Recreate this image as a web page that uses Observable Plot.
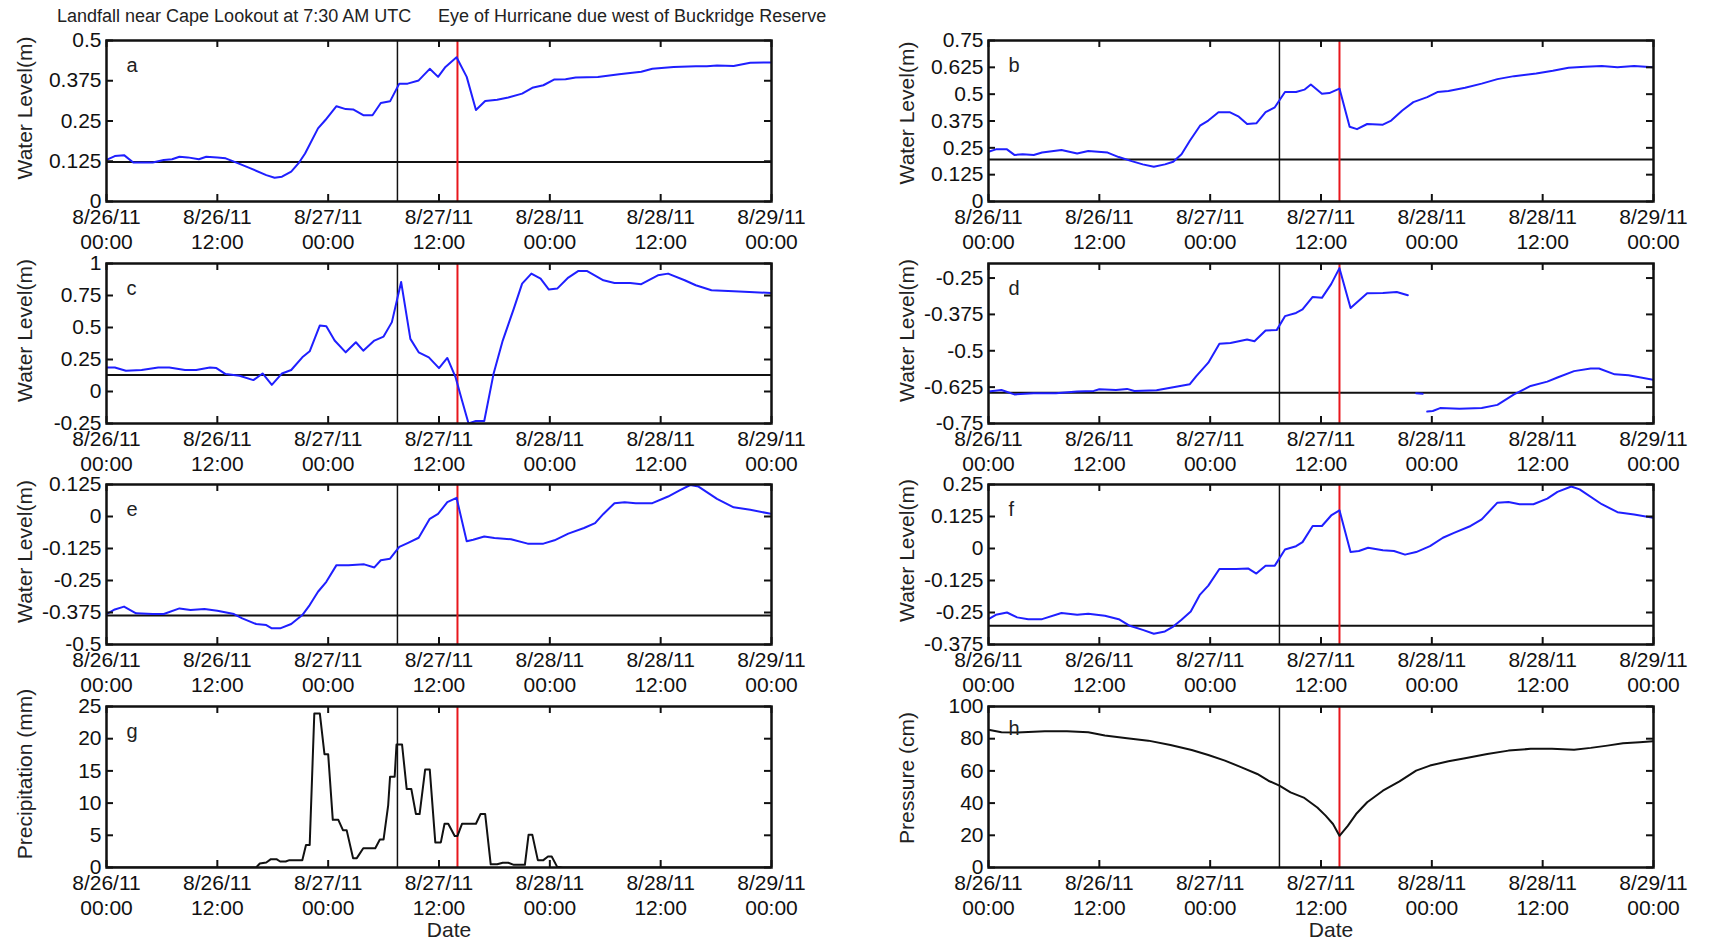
<!DOCTYPE html>
<html><head><meta charset="utf-8">
<script src="https://cdn.jsdelivr.net/npm/d3@7"></script>
<script src="https://cdn.jsdelivr.net/npm/@observablehq/plot@0.6"></script>
<style>
body{margin:0;background:#fff;}
#root{position:relative;width:1713px;height:943px;overflow:hidden;font-family:"Liberation Sans",Arial,sans-serif;background:#fff;}
.title{position:absolute;top:6px;font-size:18px;white-space:nowrap;color:#222;}
#root svg{position:absolute;}
</style></head><body><div id="root">
<div class="title" style="left:57px">Landfall near Cape Lookout at 7:30 AM UTC</div>
<div class="title" style="left:438px">Eye of Hurricane due west of Buckridge Reserve</div>
</div>
<script>
// ---------- DATA (hours after 8/26/11 00:00 UTC, value) ----------
const landfallHour = 31.5;   // 7:30 AM UTC on 8/27
const eyeHour = 38;
const xTickHours = [0, 12, 24, 36, 48, 60, 72];

const seriesA = [[0,0.129],[0.9,0.141],[1.9,0.144],[2.9,0.121],[5,0.121],[6.2,0.129],[7.1,0.131],[7.9,0.139],[8.8,0.137],[10,0.131],[10.8,0.139],[12,0.137],[12.9,0.134],[13.8,0.124],[15.6,0.103],[17.3,0.082],[18.2,0.074],[19,0.077],[20,0.093],[20.8,0.119],[21.5,0.149],[22.9,0.227],[23.7,0.253],[24.9,0.296],[25.9,0.287],[26.7,0.286],[27.8,0.268],[28.8,0.268],[29.7,0.306],[30.7,0.311],[31.7,0.366],[32.6,0.366],[33.8,0.376],[35,0.412],[35.9,0.387],[36.7,0.418],[37.9,0.448],[39,0.387],[40,0.284],[41,0.312],[42.3,0.316],[43.5,0.323],[45,0.335],[46.1,0.353],[47.3,0.361],[48.5,0.379],[49.7,0.380],[50.8,0.385],[53.2,0.387],[55.5,0.395],[57.9,0.403],[59.1,0.412],[61.4,0.418],[63.8,0.420],[65,0.420],[66.1,0.422],[67.9,0.421],[69.7,0.431],[72,0.432]];
const seriesB = [[0,0.232],[0.8,0.243],[2,0.243],[2.8,0.217],[3.7,0.220],[4.9,0.217],[5.8,0.228],[7.9,0.240],[9.6,0.224],[10.8,0.235],[12.9,0.228],[14.1,0.207],[15.5,0.188],[16.7,0.173],[17.9,0.162],[19.1,0.173],[20,0.185],[20.9,0.220],[21.8,0.283],[22.9,0.353],[23.8,0.377],[24.9,0.416],[26.1,0.416],[27.1,0.395],[28,0.361],[29,0.364],[30,0.416],[31,0.439],[32.1,0.510],[33.3,0.510],[34.2,0.521],[34.9,0.545],[36.1,0.502],[36.9,0.505],[38,0.526],[39.1,0.348],[39.9,0.337],[41,0.361],[42.7,0.358],[43.6,0.377],[44.8,0.424],[46,0.463],[47.5,0.486],[48.6,0.510],[49.8,0.515],[51.6,0.530],[53.4,0.549],[55.1,0.570],[56.9,0.584],[59.3,0.596],[61.1,0.609],[62.8,0.623],[64.6,0.628],[66.4,0.631],[68.1,0.625],[69.9,0.631],[72,0.625]];
const seriesC = [[0,0.188],[0.9,0.188],[2.1,0.162],[3.8,0.168],[5.6,0.188],[6.8,0.188],[8.5,0.168],[9.7,0.168],[11.2,0.188],[11.9,0.183],[12.9,0.136],[14.4,0.123],[15.9,0.089],[16.9,0.141],[17.9,0.052],[19,0.141],[20,0.168],[21.2,0.267],[22,0.314],[23.1,0.516],[23.8,0.510],[24.7,0.398],[25.9,0.306],[27,0.385],[27.8,0.319],[29,0.398],[30,0.429],[30.9,0.542],[31.9,0.856],[32.9,0.411],[33.8,0.306],[34.9,0.267],[36,0.183],[36.9,0.262],[37.8,0.110],[38.5,-0.073],[39.2,-0.25],[40,-0.230],[40.9,-0.230],[41.9,0.136],[42.9,0.398],[44.1,0.647],[45,0.843],[46,0.921],[47,0.882],[47.9,0.796],[48.8,0.804],[50,0.890],[51.1,0.942],[52,0.942],[53.8,0.869],[55,0.848],[56.7,0.848],[57.9,0.838],[59.7,0.908],[60.8,0.921],[62.6,0.869],[63.8,0.830],[65.5,0.791],[67.9,0.783],[69.6,0.777],[72,0.770]];
const seriesD = [[0,-0.640],[1.4,-0.635],[2.8,-0.650],[4.9,-0.646],[7.3,-0.646],[9.6,-0.640],[11.4,-0.638],[12,-0.632],[13.8,-0.635],[15,-0.631],[15.8,-0.638],[18.2,-0.636],[19.7,-0.627],[21.8,-0.615],[22.5,-0.587],[23.8,-0.541],[25,-0.476],[26.2,-0.473],[28,-0.461],[28.8,-0.467],[30,-0.430],[31.2,-0.429],[32.1,-0.381],[33.3,-0.370],[34,-0.358],[35.1,-0.315],[36.1,-0.318],[37.1,-0.271],[38,-0.216],[39.2,-0.353],[41,-0.302],[42.7,-0.301],[44.2,-0.298],[45.4,-0.309],[45.8,null],[46.3,-0.646],[47,-0.648],[47.2,null],[47.5,-0.709],[48.1,-0.707],[48.9,-0.697],[51,-0.699],[53.4,-0.697],[55.1,-0.686],[56.9,-0.650],[58.7,-0.621],[60.5,-0.606],[61.6,-0.592],[63.4,-0.570],[65.2,-0.561],[66.1,-0.561],[67.8,-0.581],[69.3,-0.584],[72,-0.600]];
const seriesE = [[0,-0.381],[0.9,-0.363],[1.9,-0.352],[3.2,-0.378],[5,-0.381],[6.2,-0.381],[7.9,-0.359],[9.1,-0.365],[10.6,-0.361],[12,-0.368],[13.8,-0.381],[14.7,-0.398],[16.2,-0.420],[17.3,-0.424],[17.9,-0.437],[18.8,-0.437],[20,-0.420],[21.2,-0.385],[22,-0.346],[22.9,-0.294],[23.8,-0.255],[24.9,-0.190],[26.2,-0.190],[27.9,-0.187],[29,-0.199],[29.7,-0.171],[30.7,-0.165],[31.7,-0.119],[32.6,-0.104],[33.8,-0.083],[35,-0.009],[35.9,0.010],[36.9,0.056],[37.9,0.073],[39,-0.097],[39.7,-0.091],[40.9,-0.078],[42,-0.084],[43.8,-0.089],[45.6,-0.106],[47.3,-0.106],[48.5,-0.093],[50,-0.067],[51.7,-0.045],[52.9,-0.026],[53.8,0.010],[55,0.052],[56.1,0.056],[57.3,0.052],[59.1,0.052],[60.8,0.078],[62,0.101],[63.2,0.123],[64.1,0.117],[66.1,0.069],[67.9,0.036],[69.7,0.026],[72,0.010]];
const seriesF = [[0,-0.276],[0.8,-0.259],[2,-0.250],[3.1,-0.269],[4.3,-0.276],[5.8,-0.276],[7.9,-0.252],[9.6,-0.259],[10.8,-0.255],[12.6,-0.263],[14.1,-0.276],[15.3,-0.302],[16.7,-0.318],[17.9,-0.333],[19.1,-0.324],[20,-0.305],[20.9,-0.278],[21.9,-0.246],[22.9,-0.180],[23.8,-0.145],[25,-0.080],[26.8,-0.080],[28.1,-0.078],[29,-0.098],[30,-0.067],[31,-0.067],[32.1,-0.004],[33.3,0.009],[34,0.025],[35.1,0.088],[36.1,0.088],[37.1,0.129],[38,0.149],[39.2,-0.014],[40.1,-0.010],[41.1,0.003],[42.7,-0.007],[43.9,-0.010],[45.1,-0.024],[46.3,-0.014],[47.8,0.009],[49.2,0.042],[50.4,0.061],[52.2,0.088],[53.4,0.114],[55.1,0.179],[56.3,0.182],[57.5,0.173],[59,0.173],[60.5,0.195],[61.6,0.221],[63.1,0.242],[64,0.231],[66.4,0.173],[68.1,0.142],[69.9,0.133],[72,0.120]];
const seriesG = [[0,0],[16.2,0],[16.6,0.62],[17.3,0.78],[17.8,1.3],[18.4,1.3],[18.8,0.93],[19.4,0.93],[19.8,1.14],[21.2,1.14],[21.6,3.5],[22,3.5],[22.5,23.9],[23.1,23.9],[23.6,17.6],[24,17.6],[24.5,7.4],[25.1,7.4],[25.6,5.8],[26,5.8],[26.7,1.45],[27.1,1.45],[27.8,3],[29.1,3],[29.6,4.35],[30,4.35],[30.5,9.7],[30.7,14.1],[31.2,14.1],[31.4,19.1],[32,19.1],[32.5,12.2],[33,12.2],[33.5,8.3],[33.9,8.3],[34.5,15.2],[35,15.2],[35.6,3.9],[36.2,3.9],[36.6,6.8],[37,6.8],[37.7,4.9],[38,4.9],[38.5,6.8],[40,6.8],[40.5,8.3],[41,8.3],[41.6,0.5],[42.3,0.5],[42.9,0.73],[43.5,0.73],[44.1,0.41],[45.3,0.41],[45.7,5.1],[46.1,5.1],[46.7,1.14],[47.3,1.14],[47.8,1.7],[48.2,1.7],[48.8,0.1],[49.4,0],[72,0]];
const seriesH = [[0,85.5],[1.4,84],[3.1,83.8],[6.1,84.6],[8.5,84.6],[10.8,84],[12.6,82],[15,80.3],[17.3,78.8],[19.7,76.1],[22,73],[23.8,69.9],[25.6,66.4],[27.4,62.2],[29.1,58.1],[30.3,53.9],[31.5,50.8],[32.7,46.7],[34.2,43.2],[35.6,37.3],[36.5,32.2],[37.3,27],[38,19.7],[38.9,25.9],[39.8,33.2],[41,40.5],[42.7,47.7],[44.5,53.5],[46.3,60.2],[47.8,63.3],[49.8,66],[51.6,67.8],[54,70.5],[56.3,72.6],[58.7,73.7],[61,73.7],[63.4,73.2],[65.2,74.3],[67,75.7],[68.7,77.2],[70.5,77.8],[72,78.4]];

const ticksA = [0, 0.125, 0.25, 0.375, 0.5];
const ticksB = [0, 0.125, 0.25, 0.375, 0.5, 0.625, 0.75];
const ticksC = [-0.25, 0, 0.25, 0.5, 0.75, 1];
const ticksD = [-0.75, -0.625, -0.5, -0.375, -0.25];
const ticksE = [-0.5, -0.375, -0.25, -0.125, 0, 0.125];
const ticksF = [-0.375, -0.25, -0.125, 0, 0.125, 0.25];
const ticksG = [0, 5, 10, 15, 20, 25];
const ticksH = [0, 20, 40, 60, 80, 100];

const domainA = [0, 0.5], domainB = [0, 0.75], domainC = [-0.25, 1], domainD = [-0.75, -0.2];
const domainE = [-0.5, 0.125], domainF = [-0.375, 0.25], domainG = [0, 25], domainH = [0, 100];

const refA = 0.123, refB = 0.196, refC = 0.128, refD = -0.644, refE = -0.387, refF = -0.302;

const waterLabel = "Water Level(m)";
const precipLabel = "Precipitation (mm)";
const pressureLabel = "Pressure (cm)";

// ---------- LAYOUT ----------
const t0 = Date.UTC(2011, 7, 26);
const toDate = h => new Date(t0 + h * 3600e3);
const xTicks = xTickHours.map(toDate);
const pad2 = n => String(n).padStart(2, "0");
const fmtX = d => `${d.getUTCMonth() + 1}/${d.getUTCDate()}/11\n${pad2(d.getUTCHours())}:00`;

const colLeft = [105.5, 988];
const frameW = 665;
const rowTop = [40, 263, 484, 706];
const rowBottom = [201, 423, 644, 867];
const FONT = "'Liberation Sans', Arial, Helvetica, sans-serif";

const panels = [
  {letter: "a", col: 0, row: 0, series: seriesA, ticks: ticksA, domain: domainA, ref: refA, ylabel: waterLabel, color: "#1f1fff", labelDy: -13},
  {letter: "b", col: 1, row: 0, series: seriesB, ticks: ticksB, domain: domainB, ref: refB, ylabel: waterLabel, color: "#1f1fff", labelDy: -8},
  {letter: "c", col: 0, row: 1, series: seriesC, ticks: ticksC, domain: domainC, ref: refC, ylabel: waterLabel, color: "#1f1fff", labelDy: -13},
  {letter: "d", col: 1, row: 1, series: seriesD, ticks: ticksD, domain: domainD, ref: refD, ylabel: waterLabel, color: "#1f1fff", labelDy: -13},
  {letter: "e", col: 0, row: 2, series: seriesE, ticks: ticksE, domain: domainE, ref: refE, ylabel: waterLabel, color: "#1f1fff", labelDy: -13},
  {letter: "f", col: 1, row: 2, series: seriesF, ticks: ticksF, domain: domainF, ref: refF, ylabel: waterLabel, color: "#1f1fff", labelDy: -14},
  {letter: "g", col: 0, row: 3, series: seriesG, ticks: ticksG, domain: domainG, ref: null, ylabel: precipLabel, color: "#111", labelDy: -13, date: true},
  {letter: "h", col: 1, row: 3, series: seriesH, ticks: ticksH, domain: domainH, ref: null, ylabel: pressureLabel, color: "#111", labelDy: -9, date: true, letterDy: 22}
];

const root = document.getElementById("root");
for (const p of panels) {
  const fx = colLeft[p.col], ft = rowTop[p.row], fb = rowBottom[p.row];
  const innerH = fb - ft;
  const mL = 112, mR = 45, mT = 22, mB = 85;
  const data = p.series.map(([h, v]) => ({t: toDate(h), v}));
  const marks = [];
  if (p.ref != null) marks.push(Plot.ruleY([p.ref], {stroke: "#111", strokeWidth: 2}));
  marks.push(
    Plot.ruleX([toDate(landfallHour)], {stroke: "#111", strokeWidth: 1.5}),
    Plot.ruleX([toDate(eyeHour)], {stroke: "#e8161c", strokeWidth: 2}),
    Plot.line(data, {x: "t", y: "v", stroke: p.color, strokeWidth: 2, clip: true}),
    Plot.ruleX(xTicks, {x: d => d, insetTop: innerH - 7, stroke: "#111", strokeWidth: 2}),
    Plot.ruleX(xTicks, {x: d => d, insetBottom: innerH - 7, stroke: "#111", strokeWidth: 2}),
    Plot.ruleY(p.ticks, {y: d => d, insetRight: frameW - 7, stroke: "#111", strokeWidth: 2}),
    Plot.ruleY(p.ticks, {y: d => d, insetLeft: frameW - 7, stroke: "#111", strokeWidth: 2}),
    Plot.frame({stroke: "#111", strokeWidth: 2.5}),
    Plot.axisX(xTicks, {tickSize: 0, tickPadding: 5, tickFormat: fmtX, fontSize: 21, lineHeight: 1.19, label: null, fill: "#111"}),
    Plot.axisY(p.ticks, {tickSize: 0, tickPadding: 5, tickFormat: d => String(d), fontSize: 21, label: null, fill: "#111"}),
    Plot.text([p.letter], {text: d => d, frameAnchor: "top-left", dx: 20, dy: p.letterDy ?? 25, lineAnchor: "middle", textAnchor: "start", fontSize: 20, fill: "#222"}),
    Plot.text([p.ylabel], {text: d => d, frameAnchor: "left", rotate: -90, dx: -81, dy: p.labelDy, fontSize: 21, textAnchor: "middle", lineAnchor: "middle", fill: "#222"})
  );
  if (p.date) marks.push(Plot.text(["Date"], {text: d => d, frameAnchor: "bottom", dx: 10, dy: 63, lineAnchor: "middle", fontSize: 21, fill: "#222"}));
  const chart = Plot.plot({
    width: mL + frameW + mR, height: mT + innerH + mB,
    marginLeft: mL, marginRight: mR, marginTop: mT, marginBottom: mB,
    style: {background: "transparent", overflow: "visible", maxWidth: "none", fontFamily: FONT, fontSize: "21px"},
    x: {type: "utc", domain: [toDate(0), toDate(72)]},
    y: {domain: p.domain},
    marks
  });
  chart.style.left = (fx - mL) + "px";
  chart.style.top = (ft - mT) + "px";
  root.append(chart);
}
</script>
</body></html>
